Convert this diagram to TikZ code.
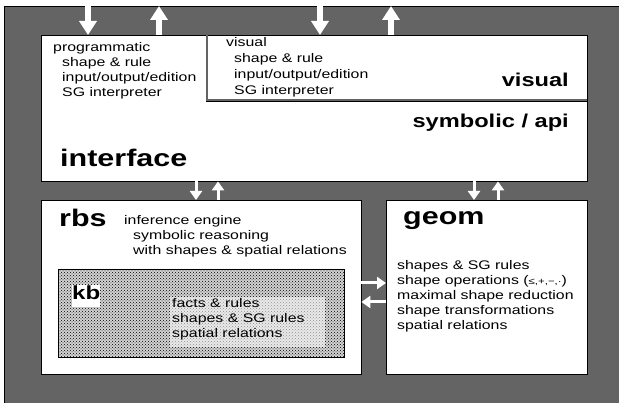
\documentclass[tikz,border=0pt]{standalone}
\usepackage{fontspec}
\setmainfont{Liberation Sans}[FakeStretch=1.27]
\usetikzlibrary{positioning, arrows.meta, calc, patterns}
\definecolor{bggray}{HTML}{646464}

\begin{document}
\begin{tikzpicture}[x=1pt, y=-1pt]
	% Define styles
	\tikzset{
		block/.style={rectangle, draw, fill=white, anchor=north west, inner sep=0pt},
		title/.style={anchor=base west, inner sep=0pt, font=\bfseries\fontsize{24}{28}\selectfont},
		subtitle/.style={inner sep=0pt, font=\bfseries\fontsize{18.6}{22}\selectfont},
		txt/.style={anchor=base west, inner sep=0pt, align=left, font=\fontsize{12.5}{15}\selectfont},
		bigarrow/.style={draw=white, line width=5.5pt, -{Triangle[width=17pt, length=14pt]}},
		smallarrow/.style={draw=white, line width=3pt, -{Triangle[width=12pt, length=9pt]}}
	}
	\useasboundingbox (0,0) rectangle (619,403);
	\fill[bggray] (4,6) rectangle (619,403);
	\draw (4,403) |- (619,6);
	
	% Boxes
	\node[block, minimum width=546pt, minimum height=146pt] (iface) at (41,35) {};
	\node[block, minimum width=380pt, minimum height=65pt] (vis) at (207,35) {};
	\draw[double=bggray, double distance=1.8pt] (vis.north west) |- (vis.south east);
	\node[block, minimum width=320pt, minimum height=174pt] (rbs) at (41,200) {};
	\node[block, minimum width=201pt, minimum height=174pt] (geom) at (386,200) {};
	\node[block, fill=gray!35, minimum width=286pt, minimum height=88pt] (kb) at (58,269) {};
	\path[pattern=crosshatch dots] (kb.north west) rectangle (kb.south east);
	\node[anchor=north west, fill=white, fill opacity=0.55, minimum width=155pt, minimum height=50pt] (factsbg) at (170,297) {};
	
	% Texts (base west = last line)
	\node[txt] (prog) at (53,97) {programmatic\\\hspace*{9pt}shape \& rule\\\hspace*{9pt}input/output/edition\\\hspace*{9pt}SG interpreter};
	\node[txt, font=\fontsize{12.5}{16.3}\selectfont] (vistxt) at (226,95) {visual\\\hspace*{8pt}shape \& rule\\\hspace*{8pt}input/output/edition\\\hspace*{8pt}SG interpreter};
	\node[title] (ifacelbl) at (60,167) {interface};
	\node[subtitle, anchor=base east] (vislbl) at (569,87) {visual};
	\node[subtitle, anchor=base east] (symlbl) at (569,128) {symbolic / api};
	
	\node[title] (rbslbl) at (59,227) {rbs};
	\node[txt] (infer) at (124,255) {inference engine\\\hspace*{9pt}symbolic reasoning\\\hspace*{9pt}with shapes \& spatial relations};
	\node[title, font=\bfseries\fontsize{19}{22}\selectfont, fill=white, text height=15pt, text depth=7pt] (kblbl) at (72,300) {kb};
	\node[txt] (facts) at (172,338) {facts \& rules\\shapes \& SG rules\\spatial relations};
	
	\node[title] (geomlbl) at (403,225) {geom};
	\node[txt] (geomtxt) at (397,330) {shapes \& SG rules\\shape operations ({\fontsize{9}{9}\selectfont ≤,+,−,·})\\maximal shape reduction\\shape transformations\\spatial relations};
	
	% Arrows
	\coordinate (in1) at (88,0);
	\coordinate (out1) at (159,6);
	\coordinate (in2) at (320,0);
	\coordinate (out2) at (391,6);
	\draw[bigarrow] (in1) -- (in1 |- iface.north);
	\draw[bigarrow] (out1 |- iface.north) -- (out1);
	\draw[bigarrow] (in2) -- (in2 |- iface.north);
	\draw[bigarrow] (out2 |- iface.north) -- (out2);
	
	\draw[smallarrow] ($(iface.south west)+(155,0)$) -- ($(rbs.north west)+(155,0)$);
	\draw[smallarrow] ($(rbs.north west)+(177,0)$) -- ($(iface.south west)+(177,0)$);
	\draw[smallarrow] ($(iface.south west)+(433,0)$) -- ($(geom.north west)+(88,0)$);
	\draw[smallarrow] ($(geom.north west)+(112,0)$) -- ($(iface.south west)+(457,0)$);
	
	\draw[smallarrow] ($(rbs.north east)+(0,83)$) -- ($(geom.north west)+(0,83)$);
	\draw[smallarrow] ($(geom.north west)+(0,102)$) -- ($(rbs.north east)+(0,102)$);
\end{tikzpicture}
\end{document}
